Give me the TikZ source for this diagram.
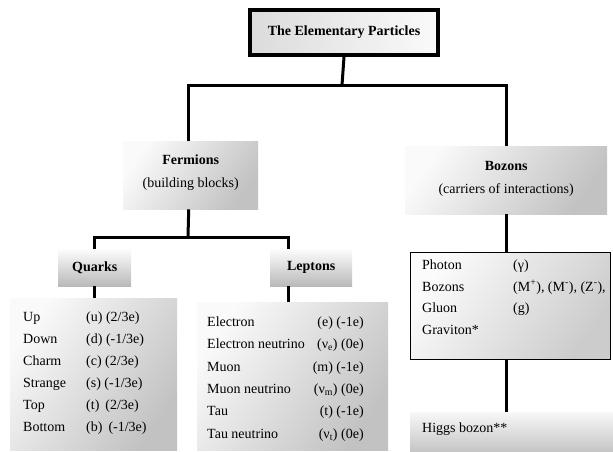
\documentclass[tikz,border=0pt]{standalone}
\usepackage{fontspec}
\setmainfont{Liberation Serif}
\begin{document}
\begin{tikzpicture}[x=1pt,y=-1pt,
  conn/.style={line width=3pt,line join=miter},
  gbox/.style={anchor=north west,inner sep=0pt,top color=gray!4,bottom color=gray!48,shading angle=55},
  lbox/.style={anchor=north west,inner sep=0pt,top color=gray!3,bottom color=gray!40,shading angle=55},
  txt/.style={font=\fontsize{14}{23}\selectfont,align=center},
  btxt/.style={font=\fontsize{14}{23}\selectfont\bfseries}
]
\useasboundingbox (0,0) rectangle (613,451);
% title
\node[anchor=north west,inner sep=0pt,minimum width=188pt,minimum height=45pt,
  draw=black,line width=4pt,left color=gray!28,right color=gray!4] (title) at (248,8) {};
\node[btxt] (titletext) at (title.center) {The Elementary Particles};
% level 2
\node[gbox,minimum width=135pt,minimum height=68pt] (fermions) at (123,141) {};
\node[txt] (fermtext) at ([yshift=3pt]fermions.center) {\textbf{Fermions}\\(building blocks)};
\node[gbox,minimum width=202pt,minimum height=68pt] (bozons) at (405,146) {};
\node[txt] (boztext) at ([yshift=1pt]bozons.center) {\textbf{Bozons}\\(carriers of interactions)};
% level 3
\node[gbox,top color=gray!2,bottom color=gray!55,minimum width=73pt,minimum height=37pt] (quarks) at (58,249) {};
\node[btxt] (quarkstext) at (quarks.center) {Quarks};
\node[gbox,top color=gray!2,bottom color=gray!55,minimum width=82pt,minimum height=37pt] (leptons) at (270,249) {};
\node[btxt] (leptonstext) at (leptons.center) {Leptons};
% lists
\node[gbox,minimum width=167pt,minimum height=152pt] (qlist) at (10,298) {};
\node[anchor=north west,inner sep=0pt,font=\fontsize{14}{22}\selectfont] (qlisttext) at (23,306)
{\begin{tabular}{@{}l@{}l@{}}
\makebox[62pt][l]{Up}&(u) (2/3e)\\
\makebox[62pt][l]{Down}&(d) (-1/3e)\\
\makebox[62pt][l]{Charm}&(c) (2/3e)\\
\makebox[59pt][l]{Strange}&(s) (-1/3e)\\
\makebox[59pt][l]{Top}&(t)\hspace{6pt}(2/3e)\\
\makebox[63pt][l]{Bottom}&(b)\hspace{6pt}(-1/3e)
\end{tabular}};
\node[gbox,minimum width=191pt,minimum height=148pt] (llist) at (197,302) {};
\node[anchor=north west,inner sep=0pt,font=\fontsize{14}{22.4}\selectfont] (llisttext) at (207,310.5)
{\begin{tabular}{@{}l@{\hspace{8pt}}r@{}}
Electron&(e) (-1e)\\
Electron neutrino&(ν\textsubscript{e}) (0e)\\
Muon&(m) (-1e)\\
Muon neutrino&(ν\textsubscript{m}) (0e)\\
Tau&(t) (-1e)\\
Tau neutrino&(ν\textsubscript{t}) (0e)
\end{tabular}};
\node[lbox,draw=black,line width=1pt,minimum width=200pt,minimum height=107pt] (blist) at (410,252) {};
\node[anchor=north west,inner sep=0pt,font=\fontsize{14}{21.7}\selectfont] (blisttext) at (422,254)
{\begin{tabular}{@{}l@{}l@{}}
\makebox[91pt][l]{Photon}&(γ)\\
\makebox[55pt][l]{Bozons}&(M\textsuperscript{+}), (M\textsuperscript{-}), (Z\textsuperscript{-}),\\
\makebox[90pt][l]{Gluon}&(g)\\
Graviton*&
\end{tabular}};
\node[gbox,top color=gray!6,bottom color=gray!45,minimum width=203pt,minimum height=39pt] (higgs) at (410,412) {};
\node[anchor=west,inner sep=0pt,font=\fontsize{14}{17}\selectfont] (higgstext) at (422,429) {Higgs bozon**};
% connectors
\coordinate (j1) at (342,85);
\coordinate (j2) at (188,237);
\draw[conn] (title.south) -- (j1);
\draw[conn] ([xshift=-2pt]fermions.north) -- ([xshift=-2pt]fermions.north |- j1) -- (bozons.north |- j1) -- (bozons.north);
\draw[conn] ([xshift=-2pt]fermions.south) -- (j2);
\draw[conn] (quarks.north) -- (quarks.north |- j2) -- ([xshift=-23pt]leptons.north |- j2) -- ([xshift=-23pt]leptons.north);
\draw[conn] (quarks.south) -- (qlist.north -| quarks.south);
\draw[conn] ([xshift=-23pt]leptons.south) -- ([xshift=-23pt]leptons.south |- llist.north);
\draw[conn] (bozons.south) -- (blist.north -| bozons.south);
\draw[conn] (blist.south -| bozons.south) -- (higgs.north -| bozons.south);
\end{tikzpicture}
\end{document}
